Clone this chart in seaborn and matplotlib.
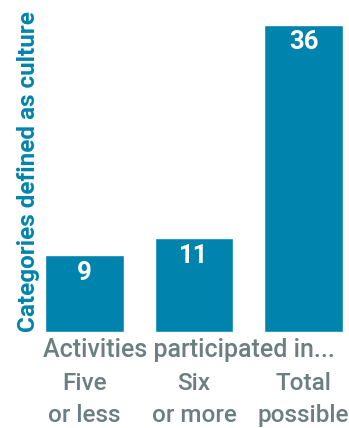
import matplotlib
matplotlib.use("Agg")
import matplotlib.pyplot as plt
import seaborn as sns
import pandas as pd

categories = ["Five\nor less", "Six\nor more", "Total\npossible"]
values = [9, 11, 36]
y_title = "Categories defined as culture"
x_title = "Activities participated in..."

teal = "#0084ad"
grey = "#6b7f80"


def main():
    sns.set_style("white")
    plt.rcParams['font.family'] = ['Roboto', 'DejaVu Sans']

    df = pd.DataFrame({"cat": categories, "val": values})

    fig = plt.figure(figsize=(3.49, 4.28), dpi=100)
    ax = fig.add_axes([45 / 349, 96 / 428, 298 / 349, 307 / 428])
    sns.barplot(data=df, x="cat", y="val", color=teal, saturation=1,
                width=0.72, ax=ax)
    ax.set_xlim(-0.36, 2.36)
    ax.set_ylim(0, 36)
    sns.despine(ax=ax, left=True, bottom=True)
    ax.set_yticks([])
    ax.set_xlabel("")
    ax.set_ylabel("")
    ax.tick_params(axis='x', length=0, pad=28.5, labelsize=17.5, labelcolor=grey)
    for lab in ax.get_xticklabels():
        lab.set_linespacing(1.55)
        lab.set_fontweight('medium')

    for i, v in enumerate(values):
        ax.annotate(str(v), (i, v), xytext=(0, -12.5), textcoords='offset points',
                    ha='center', va='center', color='white',
                    fontsize=18.5, fontweight='bold')

    fig.text(189 / 349, 1 - 350 / 428, x_title, ha='center', va='center',
             color=grey, fontsize=18, fontweight='medium')
    fig.text(29 / 349, 1 - 172 / 428, y_title, ha='center', va='center',
             rotation=90, color=teal, fontsize=17.5, fontweight='bold')

    fig.savefig("out.png", dpi=100)


if __name__ == "__main__":
    main()
